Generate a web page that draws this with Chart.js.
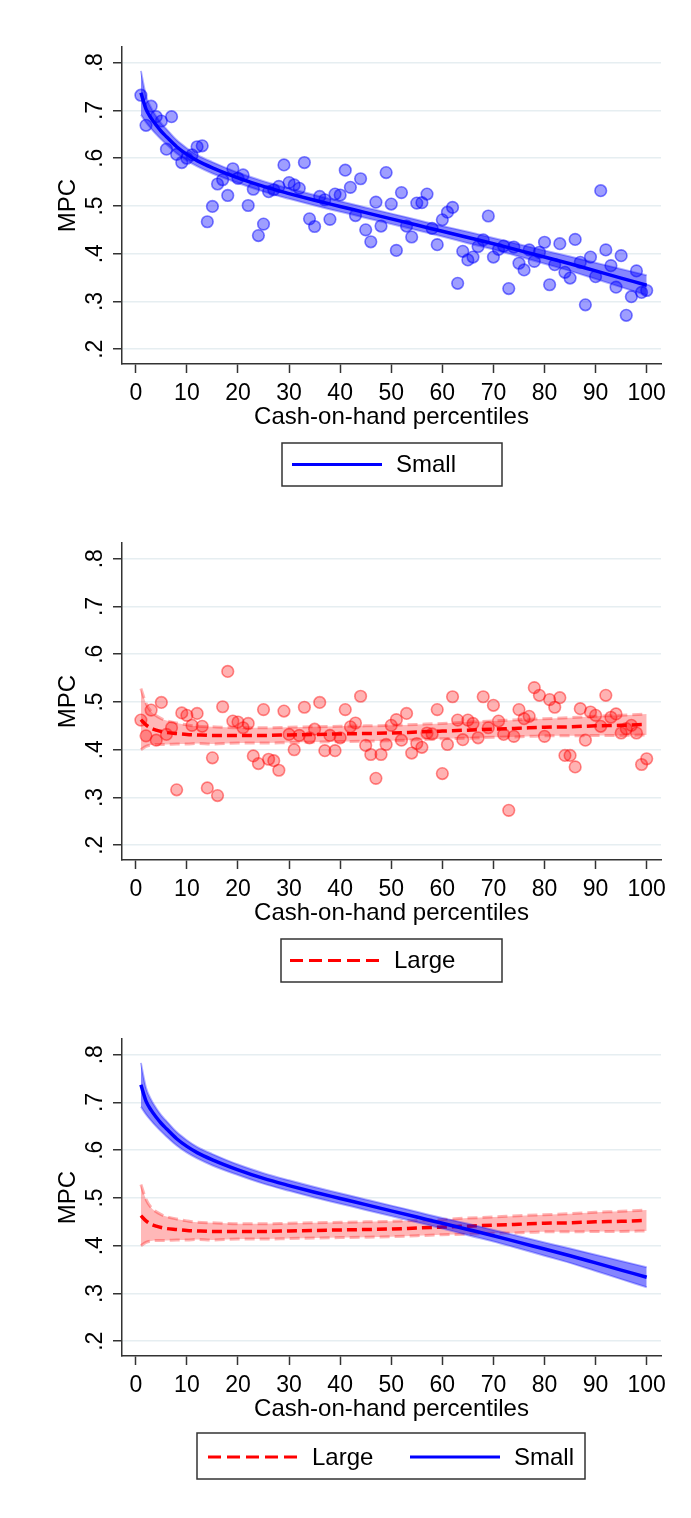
<!DOCTYPE html>
<html>
<head>
<meta charset="utf-8">
<script src="https://cdn.jsdelivr.net/npm/chart.js"></script>
<style>
  body { margin: 0; background: #fff; }
  canvas { display: block; }
</style>
</head>
<body>
<canvas id="chartSmall" width="691" height="496"></canvas>
<canvas id="chartLarge" width="691" height="496"></canvas>
<canvas id="chartBoth" width="691" height="496"></canvas>
<script>
const FONT = '"Liberation Sans", Arial, sans-serif';

// cash-on-hand percentiles
const percentiles = [1, 2, 3, 4, 5, 6, 7, 8, 9, 10, 11, 12, 13, 14, 15, 16, 17, 18, 19, 20,
  21, 22, 23, 24, 25, 26, 27, 28, 29, 30, 31, 32, 33, 34, 35, 36, 37, 38, 39, 40,
  41, 42, 43, 44, 45, 46, 47, 48, 49, 50, 51, 52, 53, 54, 55, 56, 57, 58, 59, 60,
  61, 62, 63, 64, 65, 66, 67, 68, 69, 70, 71, 72, 73, 74, 75, 76, 77, 78, 79, 80,
  81, 82, 83, 84, 85, 86, 87, 88, 89, 90, 91, 92, 93, 94, 95, 96, 97, 98, 99, 100];

// MPC per percentile, small shock
const smallMpc = [0.732, 0.669, 0.709, 0.687, 0.678, 0.619, 0.687, 0.608, 0.591, 0.600,
  0.607, 0.624, 0.626, 0.467, 0.499, 0.546, 0.555, 0.522, 0.578, 0.558,
  0.565, 0.501, 0.535, 0.438, 0.462, 0.530, 0.534, 0.541, 0.586, 0.549,
  0.544, 0.537, 0.591, 0.473, 0.457, 0.520, 0.513, 0.472, 0.525, 0.523,
  0.575, 0.539, 0.480, 0.557, 0.450, 0.425, 0.508, 0.458, 0.570, 0.504,
  0.407, 0.528, 0.458, 0.435, 0.506, 0.507, 0.525, 0.453, 0.419, 0.471,
  0.487, 0.497, 0.338, 0.405, 0.387, 0.393, 0.415, 0.429, 0.479, 0.393,
  0.409, 0.416, 0.327, 0.414, 0.380, 0.366, 0.408, 0.384, 0.403, 0.424,
  0.335, 0.377, 0.421, 0.361, 0.349, 0.430, 0.382, 0.293, 0.393, 0.352,
  0.532, 0.408, 0.375, 0.330, 0.396, 0.271, 0.310, 0.364, 0.319, 0.323];

// MPC per percentile, large shock
const largeMpc = [0.462, 0.429, 0.483, 0.420, 0.499, 0.432, 0.446, 0.316, 0.477, 0.472,
  0.451, 0.476, 0.449, 0.320, 0.383, 0.304, 0.490, 0.564, 0.460, 0.458,
  0.446, 0.455, 0.387, 0.371, 0.484, 0.380, 0.377, 0.357, 0.481, 0.432,
  0.400, 0.430, 0.489, 0.425, 0.443, 0.499, 0.398, 0.430, 0.398, 0.425,
  0.484, 0.448, 0.456, 0.512, 0.409, 0.390, 0.340, 0.390, 0.411, 0.451,
  0.463, 0.420, 0.476, 0.393, 0.413, 0.405, 0.435, 0.433, 0.484, 0.350,
  0.411, 0.511, 0.462, 0.421, 0.462, 0.455, 0.425, 0.511, 0.446, 0.493,
  0.460, 0.432, 0.273, 0.428, 0.484, 0.465, 0.470, 0.530, 0.514, 0.428,
  0.505, 0.489, 0.509, 0.388, 0.388, 0.364, 0.486, 0.420, 0.479, 0.472,
  0.449, 0.514, 0.468, 0.475, 0.435, 0.444, 0.451, 0.435, 0.369, 0.381];

// fitted curves with 95% bands, read at these percentiles
const fitX = [1, 2, 3, 4, 5, 6, 8, 10, 12, 15, 20, 25, 30, 35, 40, 45, 50,
  55, 60, 65, 70, 75, 80, 85, 90, 95, 100];
const smallFit = [0.737, 0.703, 0.684, 0.669, 0.656, 0.645, 0.624, 0.608, 0.595, 0.580, 0.559,
  0.541, 0.526, 0.512, 0.499, 0.486, 0.473, 0.460, 0.447, 0.434, 0.421, 0.407, 0.393,
  0.379, 0.364, 0.349, 0.334];
const smallFitLo = [0.691, 0.675, 0.662, 0.650, 0.639, 0.629, 0.610, 0.595, 0.583, 0.568, 0.548,
  0.530, 0.515, 0.501, 0.488, 0.475, 0.462, 0.449, 0.436, 0.422, 0.409, 0.394, 0.379,
  0.364, 0.347, 0.330, 0.313];
const smallFitHi = [0.783, 0.731, 0.706, 0.688, 0.673, 0.661, 0.638, 0.621, 0.607, 0.592, 0.570,
  0.552, 0.537, 0.523, 0.510, 0.497, 0.484, 0.471, 0.458, 0.446, 0.433, 0.420, 0.407,
  0.394, 0.381, 0.368, 0.355];
const largeFit = [0.463, 0.452, 0.445, 0.441, 0.438, 0.436, 0.434, 0.432, 0.431, 0.430, 0.430,
  0.430, 0.431, 0.432, 0.433, 0.434, 0.435, 0.437, 0.439, 0.441, 0.443, 0.445, 0.447,
  0.448, 0.450, 0.451, 0.453];
const largeFitLo = [0.400, 0.407, 0.410, 0.411, 0.411, 0.411, 0.412, 0.412, 0.413, 0.412, 0.414,
  0.414, 0.415, 0.416, 0.417, 0.418, 0.419, 0.421, 0.423, 0.424, 0.426, 0.427, 0.429,
  0.429, 0.430, 0.430, 0.431];
const largeFitHi = [0.528, 0.497, 0.480, 0.471, 0.465, 0.461, 0.456, 0.452, 0.449, 0.448, 0.446,
  0.446, 0.447, 0.448, 0.449, 0.450, 0.451, 0.453, 0.455, 0.458, 0.460, 0.463, 0.465,
  0.467, 0.470, 0.472, 0.475];

const xTickValues = [0, 10, 20, 30, 40, 50, 60, 70, 80, 90, 100];
const yTickValues = [0.2, 0.3, 0.4, 0.5, 0.6, 0.7, 0.8];

function pairs(xs, ys) {
  return xs.map((x, i) => ({ x: x, y: ys[i] }));
}

const boxLegend = {
  id: 'boxLegend',
  afterDraw(chart, args, opts) {
    const ctx = chart.ctx;
    ctx.save();
    ctx.strokeStyle = '#333';
    ctx.lineWidth = 1.5;
    ctx.strokeRect(opts.box[0], opts.box[1], opts.box[2], opts.box[3]);
    ctx.font = '24px ' + FONT;
    ctx.textBaseline = 'middle';
    ctx.fillStyle = '#000';
    opts.items.forEach(it => {
      ctx.beginPath();
      ctx.setLineDash(it.dash || []);
      ctx.strokeStyle = it.color;
      ctx.lineWidth = 3;
      ctx.moveTo(it.x, opts.y);
      ctx.lineTo(it.x + 90, opts.y);
      ctx.stroke();
      ctx.setLineDash([]);
      ctx.fillText(it.text, it.x + 104, opts.y + 1);
    });
    ctx.restore();
  }
};

function axes() {
  return {
    x: {
      type: 'linear',
      min: -2.7,
      max: 102.8,
      afterBuildTicks: s => { s.ticks = xTickValues.map(v => ({ value: v })); },
      afterFit: s => { s.height = 132; },
      grid: { drawOnChartArea: false, drawTicks: true, tickLength: 9, tickColor: '#333', tickWidth: 1.5 },
      border: { display: true, color: '#333', width: 1.5 },
      ticks: { color: '#000', font: { family: FONT, size: 23 }, padding: 7, maxRotation: 0, autoSkip: false },
      title: {
        display: true, text: 'Cash-on-hand percentiles', color: '#000',
        font: { family: FONT, size: 24 }, padding: { top: 0, bottom: 64.6 }
      }
    },
    y: {
      type: 'linear',
      min: 0.169,
      max: 0.833,
      afterBuildTicks: s => { s.ticks = yTickValues.map(v => ({ value: v })); },
      afterFit: s => { s.width = 122; },
      grid: { color: '#e6eef1', lineWidth: 1.5, drawTicks: true, tickLength: 9, tickColor: '#333', tickWidth: 1.5 },
      border: { display: true, color: '#333', width: 1.5 },
      ticks: {
        color: '#000', font: { family: FONT, size: 23 }, padding: 8,
        minRotation: 90, maxRotation: 90, crossAlign: 'center', autoSkip: false,
        callback: v => v.toFixed(1).replace(/^0/, '')
      },
      title: {
        display: true, text: 'MPC', color: '#000',
        font: { family: FONT, size: 24 }, padding: { top: 53.6, bottom: 0 }
      }
    }
  };
}

function smallSets(withDots) {
  const sets = [
    { data: pairs(fitX, smallFit), borderColor: '#0000ff', borderWidth: 3.5, pointRadius: 0,
      cubicInterpolationMode: 'monotone', fill: false, order: 0 },
    { data: pairs(fitX, smallFitLo), borderColor: 'rgba(0,0,255,0.3)', borderWidth: 2, pointRadius: 0,
      cubicInterpolationMode: 'monotone', fill: false, order: 1 },
    { data: pairs(fitX, smallFitHi), borderColor: 'rgba(0,0,255,0.3)', borderWidth: 2, pointRadius: 0,
      backgroundColor: 'rgba(0,0,255,0.48)', cubicInterpolationMode: 'monotone', fill: '-1', order: 1 }
  ];
  if (withDots) {
    sets.push({ data: pairs(percentiles, smallMpc), showLine: false, pointRadius: 5.8,
      backgroundColor: 'rgba(0,0,255,0.38)', borderColor: 'rgba(0,0,255,0.5)', borderWidth: 1.6, order: 2 });
  }
  return sets;
}

function largeSets(withDots, base) {
  const sets = [
    { data: pairs(fitX, largeFit), borderColor: '#ff0000', borderWidth: 3.5, borderDash: [10, 5], pointRadius: 0,
      cubicInterpolationMode: 'monotone', fill: false, order: base },
    { data: pairs(fitX, largeFitLo), borderColor: 'rgba(255,0,0,0.3)', borderWidth: 3, borderDash: [10, 5], pointRadius: 0,
      cubicInterpolationMode: 'monotone', fill: false, order: base + 1 },
    { data: pairs(fitX, largeFitHi), borderColor: 'rgba(255,0,0,0.3)', borderWidth: 3, borderDash: [10, 5], pointRadius: 0,
      backgroundColor: 'rgba(255,0,0,0.28)', cubicInterpolationMode: 'monotone', fill: '-1', order: base + 1 }
  ];
  if (withDots) {
    sets.push({ data: pairs(percentiles, largeMpc), showLine: false, pointRadius: 5.8,
      backgroundColor: 'rgba(255,0,0,0.3)', borderColor: 'rgba(255,0,0,0.45)', borderWidth: 1.6, order: base + 2 });
  }
  return sets;
}

function makePanel(id, datasets, legendOpts) {
  new Chart(document.getElementById(id), {
    type: 'line',
    data: { datasets: datasets },
    options: {
      responsive: false,
      animation: false,
      devicePixelRatio: 1,
      layout: { padding: { top: 47, right: 30, left: 0, bottom: 0 } },
      scales: axes(),
      plugins: {
        legend: { display: false },
        tooltip: { enabled: false },
        boxLegend: legendOpts
      }
    },
    plugins: [boxLegend]
  });
}

makePanel('chartSmall', smallSets(true), {
  box: [282, 443, 220, 43], y: 464.5,
  items: [{ x: 292, text: 'Small', color: '#0000ff' }]
});

makePanel('chartLarge', largeSets(true, 0), {
  box: [281, 443, 221, 43], y: 464.5,
  items: [{ x: 290, text: 'Large', color: '#ff0000', dash: [13, 6] }]
});

makePanel('chartBoth', smallSets(false).concat(largeSets(false, 2)), {
  box: [197, 441, 388, 46], y: 465,
  items: [
    { x: 208, text: 'Large', color: '#ff0000', dash: [13, 6] },
    { x: 410, text: 'Small', color: '#0000ff' }
  ]
});
</script>
</body>
</html>
